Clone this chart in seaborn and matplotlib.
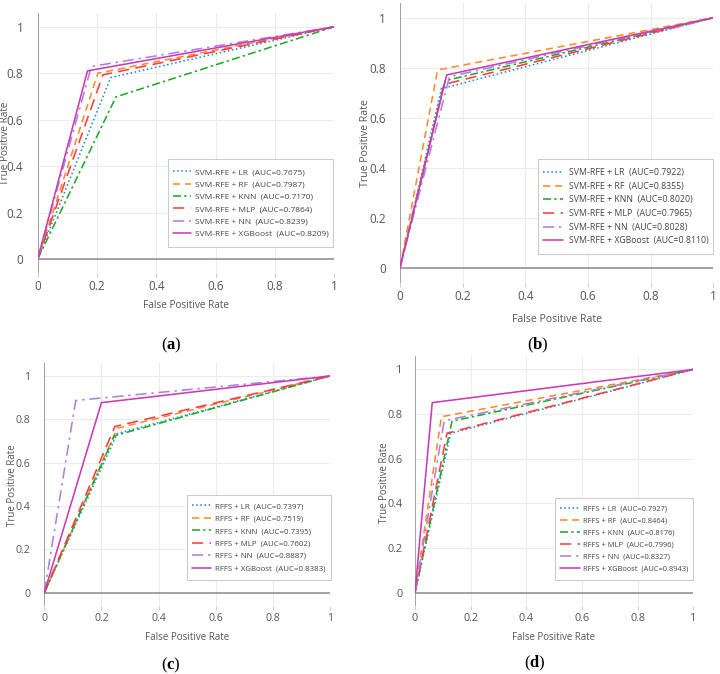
import matplotlib
matplotlib.use("Agg")
import matplotlib.pyplot as plt
from matplotlib.patches import Rectangle
import seaborn as sns
import pandas as pd

sns.set_theme(style="white")
plt.rcParams['font.family'] = ['Open Sans', 'DejaVu Sans']
plt.rcParams['mathtext.fontset'] = 'custom'
plt.rcParams['mathtext.rm'] = 'Liberation Serif'
plt.rcParams['mathtext.bf'] = 'Liberation Serif:bold'

models = ["LR", "RF", "KNN", "MLP", "NN", "XGBoost"]

# panel (a): SVM-RFE
auc_a = ["0.7675", "0.7987", "0.7170", "0.7864", "0.8239", "0.8209"]
fpr_a = [0.246, 0.203, 0.264, 0.220, 0.181, 0.168]
tpr_a = [0.781, 0.800, 0.698, 0.793, 0.829, 0.810]
# panel (b): SVM-RFE
auc_b = ["0.7922", "0.8355", "0.8020", "0.7965", "0.8028", "0.8110"]
fpr_b = [0.132, 0.120, 0.144, 0.140, 0.158, 0.149]
tpr_b = [0.716, 0.791, 0.748, 0.733, 0.764, 0.771]
# panel (c): RFFS
auc_c = ["0.7397", "0.7519", "0.7395", "0.7602", "0.8887", "0.8383"]
fpr_c = [0.255, 0.255, 0.245, 0.247, 0.110, 0.200]
tpr_c = [0.734, 0.759, 0.724, 0.767, 0.887, 0.877]
# panel (d): RFFS
auc_d = ["0.7927", "0.8464", "0.8176", "0.7996", "0.8327", "0.8943"]
fpr_d = [0.128, 0.095, 0.133, 0.115, 0.105, 0.062]
tpr_d = [0.713, 0.788, 0.768, 0.714, 0.770, 0.851]

colors = ["#1f8ed6", "#ff8a2a", "#1fa82c", "#ff3b3b", "#b07fe0", "#c83cb6"]
styles = [(0, (1, 1.6)), (0, (4.5, 3)), (0, (5, 2, 1.5, 2)), (0, (7, 4)),
          (0, (7, 3, 1.5, 3)), "solid"]

fig = plt.figure(figsize=(7.2, 6.74), dpi=100)
W, H = 720, 674

def axes_px(x0, x1, ytop, ybot):
    return fig.add_axes([x0 / W, 1 - ybot / H, (x1 - x0) / W, (ybot - ytop) / H])

panels = [
    dict(prefix="SVM-RFE", auc=auc_a, fpr=fpr_a, tpr=tpr_a, box=(37.7, 334.3, 12.8, 272.9),
         leg=(168.3, 159.3, 333.3, 246.7), xl=(186, 305), yl=(5.5, 143), lab=(171, 345, "a"),
         tfs=8.5, afs=7.2, lfs=6.0, ls=0.54, hl=2.2, htp=0.5, pad=4.3),
    dict(prefix="SVM-RFE", auc=auc_b, fpr=fpr_b, tpr=tpr_b, box=(400, 713.3, 2.7, 282.7),
         leg=(538.3, 159.3, 713.3, 254), xl=(557, 319), yl=(366.0, 143), lab=(538, 345, "b"),
         tfs=8.5, afs=7.6, lfs=6.33, ls=0.53, hl=2.3, htp=0.6, pad=4),
    dict(prefix="RFFS", auc=auc_c, fpr=fpr_c, tpr=tpr_c, box=(44.3, 330, 363, 605.7),
         leg=(186.7, 495, 331, 580), xl=(187, 638), yl=(13.0, 485), lab=(171, 665, "c"),
         tfs=7.6, afs=7.0, lfs=5.7, ls=0.62, hl=2.45, htp=0.55, pad=4.2),
    dict(prefix="RFFS", auc=auc_d, fpr=fpr_d, tpr=tpr_d, box=(415, 693.3, 356, 606),
         leg=(555, 498, 693.3, 580), xl=(554, 637), yl=(384.5, 483), lab=(535, 663, "d"),
         tfs=7.8, afs=6.9, lfs=5.4, ls=0.62, hl=2.65, htp=0.48, pad=3),
]

YMIN, YMAX = -0.06, 1.06
ticks = [0, 0.2, 0.4, 0.6, 0.8, 1]
tick_labels = ["0", "0.2", "0.4", "0.6", "0.8", "1"]
for p in panels:
    x0, x1, yt, yb = p["box"]
    ax = axes_px(x0, x1, yt, yb)
    for i, m in enumerate(models):
        df = pd.DataFrame({"fpr": [0.0, p["fpr"][i], 1.0], "tpr": [0.0, p["tpr"][i], 1.0]})
        sns.lineplot(data=df, x="fpr", y="tpr", ax=ax, sort=False, color=colors[i],
                     linestyle=styles[i], linewidth=1.15,
                     label=f"{p['prefix']} + {m}  (AUC={p['auc'][i]})", zorder=3)
    ax.set_xlim(0, 1)
    ax.set_ylim(YMIN, YMAX)
    ax.set_xticks(ticks)
    ax.set_xticklabels(tick_labels)
    ax.set_yticks(ticks)
    ax.set_yticklabels(tick_labels)
    ax.grid(True, color="#ececec", linewidth=0.8)
    for s in ax.spines.values():
        s.set_visible(False)
    ax.axhline(0, color="#8c8c8c", linewidth=1.1, zorder=2)
    ax.axvline(0, color="#8c8c8c", linewidth=1.1, zorder=2)
    ax.tick_params(axis="x", which="both", bottom=True, length=3, width=0.8,
                   color="#cccccc", labelsize=p["tfs"], labelcolor="#555555", pad=2)
    ax.tick_params(axis="y", which="both", left=False, labelsize=p["tfs"],
                   labelcolor="#555555", pad=p["pad"])
    ax.set_xlabel("")
    ax.set_ylabel("")
    # legend box (frame) and content
    bl, bt, br, bb = p["leg"]
    rect = Rectangle((bl / W, 1 - bb / H), (br - bl) / W, (bb - bt) / H,
                     transform=fig.transFigure, facecolor="white", edgecolor="#cccccc",
                     linewidth=0.8, zorder=4, clip_on=False)
    ax.add_patch(rect)
    cx = ((bl + br) / 2 - x0) / (x1 - x0)
    cy = (yb - (bt + bb) / 2) / (yb - yt)
    leg = ax.legend(loc="center", bbox_to_anchor=(cx, cy), fontsize=p["lfs"],
                    frameon=False, borderaxespad=0, handlelength=p["hl"],
                    handletextpad=p["htp"], labelspacing=p["ls"], borderpad=0.3,
                    labelcolor="#444444")
    leg.set_zorder(5)
    # axis titles
    fig.text(p["xl"][0] / W, 1 - p["xl"][1] / H, "False Positive Rate", ha="center",
             va="center", fontsize=p["afs"], color="#555555")
    fig.text(p["yl"][0] / W, 1 - p["yl"][1] / H, "True Positive Rate", ha="center",
             va="center", rotation=90, fontsize=p["afs"], color="#555555")
    lxp, lyp, lt = p["lab"]
    fig.text(lxp / W, 1 - lyp / H, r"$(\mathbf{" + lt + r"})$", ha="center", va="center",
             fontsize=12, color="black")

fig.savefig("out.png", dpi=100)
